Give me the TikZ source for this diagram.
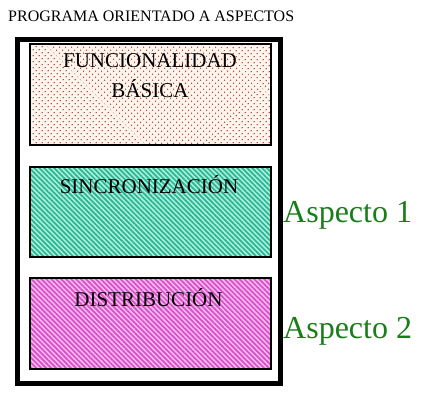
\documentclass[tikz,border=0pt]{standalone}
\usepackage{fontspec}
\setmainfont{Liberation Serif}
\newfontfamily\timesf{Liberation Serif}
\usetikzlibrary{patterns.meta}
\definecolor{dotc}{RGB}{165,70,60}
\definecolor{dotbg}{RGB}{255,245,236}
\definecolor{tealc}{RGB}{45,180,145}
\definecolor{tealbg}{RGB}{170,240,225}
\definecolor{magc}{RGB}{215,80,200}
\definecolor{magbg}{RGB}{248,185,240}
\definecolor{aspc}{RGB}{25,125,25}
\tikzset{
  layerbox/.style={draw=black, line width=2pt, inner sep=0pt, minimum width=241pt, anchor=north west},
  boxtext/.style={font=\timesf\fontsize{21}{28}\selectfont, anchor=base, inner sep=0pt},
  asptext/.style={font=\timesf\fontsize{32}{38}\selectfont, text=aspc, anchor=base west, inner sep=0pt},
}
\begin{document}
\begin{tikzpicture}[x=1pt,y=-1pt]
\useasboundingbox (0,0) rectangle (430,401);
\node[anchor=base west, inner sep=0pt, font=\timesf\fontsize{16}{18}\selectfont] (title) at (8,22) {PROGRAMA ORIENTADO A ASPECTOS};
\node[draw=black, line width=5pt, inner sep=0pt, minimum width=263pt, minimum height=343pt, anchor=north west] (outer) at (14.5,37.5) {};
\node[layerbox, minimum height=101pt, preaction={fill=dotbg}, pattern={Dots[distance=4pt, radius=0.8pt, angle=45]}, pattern color=dotc] (b1) at (29,43) {};
\node[layerbox, minimum height=90pt, preaction={fill=tealbg}, pattern={Lines[angle=-45, distance=3.5pt, line width=1.7pt]}, pattern color=tealc] (b2) at (29,166) {};
\node[layerbox, minimum height=91pt, preaction={fill=magbg}, pattern={Lines[angle=-45, distance=3.5pt, line width=1.7pt]}, pattern color=magc] (b3) at (29,277) {};
\node[boxtext] (t1a) at (150,68) {FUNCIONALIDAD};
\node[boxtext] (t1b) at (150,97) {BÁSICA};
\node[boxtext] (t2) at (149,193) {SINCRONIZACIÓN};
\node[boxtext] (t3) at (148.5,306) {DISTRIBUCIÓN};
\node[asptext] (a1) at (283,222) {Aspecto 1};
\node[asptext] (a2) at (283,338) {Aspecto 2};
\end{tikzpicture}
\end{document}
